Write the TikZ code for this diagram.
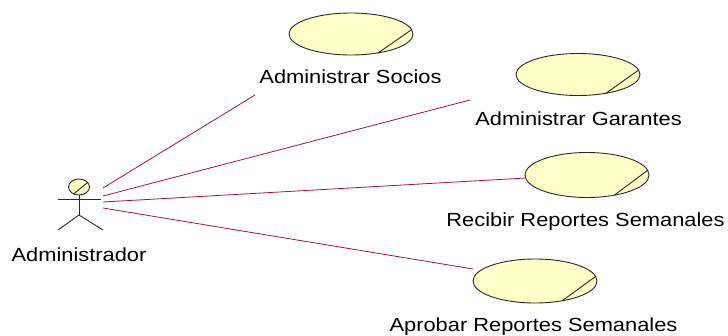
\documentclass[tikz,border=0pt]{standalone}
\usepackage{fontspec}
\setmainfont[FakeStretch=1.15]{Liberation Sans}
\usetikzlibrary{shapes.geometric}
\definecolor{ucfill}{RGB}{255,255,200}
\definecolor{ucline}{RGB}{40,40,40}
\definecolor{assoc}{RGB}{160,20,70}
\begin{document}
\begin{tikzpicture}[x=1pt,y=-1pt,
  usecase/.style={ellipse,draw=ucline,fill=ucfill,line width=0.9pt,minimum width=124pt,minimum height=42pt,inner sep=0pt},
  chord/.style={draw=ucline,line width=0.9pt},
  lbl/.style={anchor=base,inner sep=0pt,font=\fontsize{19}{22}\selectfont},
  assocline/.style={draw=assoc,line width=0.8pt},
  actorline/.style={draw=ucline,line width=0.9pt}]
\useasboundingbox (0,0) rectangle (728,335);
% use cases
\node[usecase] (uc1) at (351,34) {};
\node[usecase] (uc2) at (578,74.5) {};
\node[usecase,minimum height=45pt] (uc3) at (587,175) {};
\node[usecase,minimum height=44pt] (uc4) at (535,281) {};
\foreach \n/\ry in {uc1/21,uc2/21.5,uc3/22.5,uc4/22}{
  \draw[chord] (\n.center) +(-12:62 and \ry) -- +(64:62 and \ry);
}
% labels
\node[lbl] (l1) at (350.5,83) {Administrar Socios};
\node[lbl] (l2) at (578.5,125) {Administrar Garantes};
\node[lbl] (l3) at (585.5,226) {Recibir Reportes Semanales};
\node[lbl] (l4) at (533.5,331) {Aprobar Reportes Semanales};
% actor
\node[ellipse,draw=ucline,fill=ucfill,line width=0.9pt,minimum width=21pt,minimum height=16pt,inner sep=0pt] (head) at (79,187) {};
\draw[actorline] (head.center) +(-35:10.5 and 8) -- +(120:10.5 and 8);
\coordinate (hip) at (79,215);
\coordinate (armL) at (58,199);
\coordinate (armR) at (101,199);
\coordinate (footL) at (58,230);
\coordinate (footR) at (103,230);
\draw[actorline] (head.south) -- (hip);
\draw[actorline] (armL) -- (armR);
\draw[actorline] (footL) -- (hip) -- (footR);
\node[lbl] (actlbl) at (79,261) {Administrador};
% associations
\coordinate (a1) at (103,188);
\coordinate (a2) at (103,196);
\coordinate (a3) at (103,202);
\coordinate (a4) at (103,208);
\coordinate (e1) at (255,95);
\coordinate (e2) at (470,100);
\coordinate (e3) at (526,178);
\coordinate (e4) at (473,269);
\draw[assocline] (a1) -- (e1);
\draw[assocline] (a2) -- (e2);
\draw[assocline] (a3) -- (e3);
\draw[assocline] (a4) -- (e4);
\end{tikzpicture}
\end{document}
